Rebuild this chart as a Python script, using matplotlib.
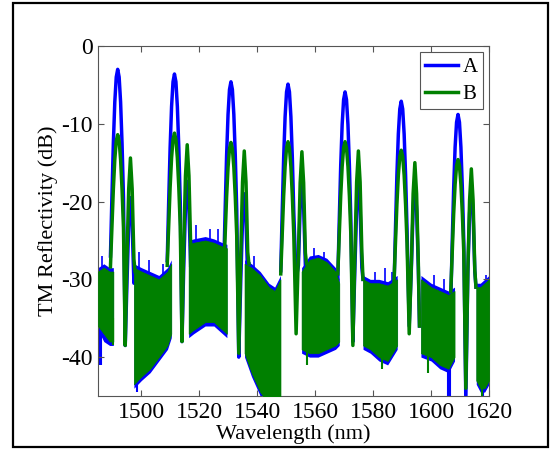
import numpy as np
import matplotlib
matplotlib.use('Agg')
import matplotlib.pyplot as plt
from matplotlib.patches import Rectangle

plt.rcParams['font.family'] = ['Liberation Serif', 'DejaVu Serif']
plt.rcParams['axes.unicode_minus'] = False

# peak groups
centers = [1491.8, 1511.4, 1530.9, 1550.6, 1570.3, 1589.7, 1609.3]
side_centers = [1496.2, 1515.8, 1535.5, 1555.4, 1574.9, 1594.4, 1613.9]
a_peak = [-3.0, -3.6, -4.6, -4.9, -5.9, -7.1, -8.8]
b_peak = [-11.4, -11.2, -12.4, -12.3, -12.3, -13.4, -14.6]
a_side = [-19.5, -17.4, -19.0, -17.2, -17.5, -17.5, -18.0]
b_side = [-14.4, -12.7, -13.5, -13.6, -13.5, -15.0, -15.8]
a_valley = [-38.5, -38.0, -40.0, -30.0, -38.0, -36.0, -45.5]
b_valley = [-38.5, -38.0, -39.5, -37.0, -38.5, -37.0, -44.0]
end_db = [-29.0, -26.0, -28.0, -28.0, -30.0, -36.0, -31.0]

main_offset = [-2.5, -2.0, -1.5, -1.0, -0.5, 0.0, 0.5, 1.0, 1.5, 2.0]
a_main_drop = [24, 16.5, 9.5, 4.2, 1.0, 0, 1.0, 4.2, 9.5, 16.5]
b_main_drop = [17, 12, 7, 3.2, 0.8, 0, 0.8, 3.2, 7, 12]
side_offset = [-1.2, -0.6, 0.0, 0.6, 1.2]
a_side_drop = [11, 3.5, 0, 3.5, 11]
b_side_drop = [13, 4, 0, 4, 13]

# noisy floor between the peaks: wavelength, top and bottom of the band
band_wl = [[1485.0, 1487.0, 1489.0, 1490.3],
           [1497.4, 1500.0, 1503.0, 1506.0, 1509.0, 1510.3],
           [1516.3, 1518.0, 1522.0, 1525.0, 1528.0, 1529.5],
           [1535.6, 1538.0, 1541.0, 1544.0, 1546.0, 1548.0],
           [1555.3, 1558.0, 1561.0, 1564.0, 1567.0, 1568.3],
           [1576.5, 1579.0, 1582.0, 1585.0, 1588.3],
           [1596.5, 1600.0, 1603.0, 1606.0, 1608.1],
           [1615.6, 1617.0, 1618.5, 1620.0]]
b_band_top = [[-29.0, -28.5, -29.0, -29.0],
              [-28.5, -29.0, -29.5, -30.0, -29.0, -28.0],
              [-25.5, -25.3, -25.0, -25.3, -25.8, -26.0],
              [-28.0, -28.5, -29.5, -31.0, -31.5, -30.0],
              [-29.0, -27.5, -27.2, -27.8, -29.0, -30.5],
              [-30.0, -30.5, -30.5, -30.8, -30.0],
              [-30.0, -31.0, -31.5, -32.0, -31.5],
              [-31.0, -31.0, -30.5, -30.0]]
b_band_bot = [[-36.0, -37.0, -38.0, -38.0],
              [-43.5, -42.5, -41.5, -40.0, -38.5, -37.0],
              [-37.0, -36.5, -35.5, -35.5, -36.5, -37.0],
              [-39.5, -42.0, -44.5, -46.0, -46.0, -46.0],
              [-39.0, -39.5, -39.5, -39.0, -38.5, -38.0],
              [-38.5, -39.0, -40.0, -40.5, -38.5],
              [-39.5, -40.0, -41.0, -41.5, -40.0],
              [-43.0, -44.0, -44.0, -43.0]]
a_band_top = [[-28.5, -28.0, -28.5, -28.5],
              [-28.0, -28.5, -29.0, -29.5, -28.5, -27.5],
              [-25.0, -24.8, -24.5, -24.8, -25.3, -25.5],
              [-27.5, -28.0, -29.0, -30.5, -31.0, -29.5],
              [-28.5, -27.0, -26.8, -27.3, -28.5, -30.0],
              [-29.5, -30.0, -30.0, -30.3, -29.5],
              [-29.5, -30.5, -31.0, -31.5, -31.0],
              [-30.5, -30.5, -30.0, -29.5]]
a_band_bot = [[-36.5, -38.0, -38.5, -38.5],
              [-44.0, -43.0, -42.0, -40.5, -39.0, -37.5],
              [-37.5, -37.0, -36.0, -36.0, -37.0, -37.5],
              [-40.0, -42.5, -45.0, -46.0, -46.0, -46.0],
              [-39.5, -40.0, -40.0, -39.5, -39.0, -38.5],
              [-39.0, -39.5, -40.5, -41.0, -39.0],
              [-40.0, -40.5, -41.5, -42.0, -40.5],
              [-43.5, -44.5, -44.5, -43.5]]

# single spikes sticking out of the floor
a_spike_wl = [1485.6, 1486.2, 1498.3, 1543.5, 1545.0, 1546.5, 1605.7,
              1606.7, 1617.8]
a_spike_db = [-41, -41, -44.5, -45.5, -45.5, -45.5, -45.5, -45.5, -45.5]
a_up_wl = [1486.5, 1499.0, 1502.5, 1507.5, 1519.0, 1523.5, 1526.5, 1539.0,
           1559.5, 1563.0, 1580.5, 1584.0, 1586.5, 1601.0, 1604.5, 1619.0]
a_up_db = [-27.0, -26.5, -27.5, -28.0, -23.0, -23.5, -23.5, -27.0,
           -26.0, -26.5, -29.0, -28.5, -29.0, -29.5, -30.0, -29.5]
b_spike_wl = [1490.2, 1617.5, 1557.0, 1583.0, 1599.0]
b_spike_db = [-38.5, -45.5, -41.0, -41.5, -42.0]

blue = (0, 0, 1)
green = (0, 0.5, 0)

fig = plt.figure(figsize=(5.57, 4.5), dpi=100)
fig.patches.append(Rectangle((13 / 557, 3 / 450), 535 / 557, 444 / 450,
                             transform=fig.transFigure, fill=False,
                             edgecolor='black', linewidth=1.6))
ax = fig.add_axes([98 / 557, 54 / 450, 391 / 557, 350 / 450])


def group_line(c, s, h, hs, v, e, main_drop, side_drop):
    x = [c + o for o in main_offset]
    y = [h - d for d in main_drop]
    x.append((c + main_offset[-1] + s + side_offset[0]) / 2)
    y.append(v)
    x += [s + o for o in side_offset]
    y += [hs - d for d in side_drop]
    x.append(s + 1.6)
    y.append(e)
    return x, y


for k in range(len(band_wl)):
    ax.fill_between(band_wl[k], a_band_bot[k], a_band_top[k], color=blue,
                    linewidth=0, zorder=1)
ax.vlines(a_spike_wl, a_spike_db, -35, color=blue, linewidth=1.5, zorder=1)
ax.vlines(a_up_wl, -32, a_up_db, color=blue, linewidth=1.2, zorder=1)
for k in range(len(centers)):
    x, y = group_line(centers[k], side_centers[k], a_peak[k], a_side[k],
                      a_valley[k], end_db[k], a_main_drop, a_side_drop)
    ax.plot(x, y, color=blue, linewidth=2.5, zorder=2,
            label='A' if k == 0 else None)

for k in range(len(band_wl)):
    ax.fill_between(band_wl[k], b_band_bot[k], b_band_top[k], color=green,
                    linewidth=0.5, zorder=3)
ax.vlines(b_spike_wl, b_spike_db, -35, color=green, linewidth=1.5, zorder=3)
for k in range(len(centers)):
    x, y = group_line(centers[k], side_centers[k], b_peak[k], b_side[k],
                      b_valley[k], end_db[k], b_main_drop, b_side_drop)
    ax.plot(x, y, color=green, linewidth=2.5, zorder=4,
            label='B' if k == 0 else None)

ax.set_xlim(1485, 1620)
ax.set_ylim(-45, 0)
ax.set_xticks([1500, 1520, 1540, 1560, 1580, 1600, 1620])
ax.set_yticks([0, -10, -20, -30, -40])
ax.tick_params(direction='in', top=True, right=True, length=4,
               color='#555555', labelsize=17, pad=4)
for sp in ax.spines.values():
    sp.set_color('#555555')
    sp.set_linewidth(0.8)
ax.set_xlabel('Wavelength (nm)', fontsize=16, labelpad=1)
ax.set_ylabel('TM Reflectivity (dB)', fontsize=16, labelpad=2)

leg = ax.legend(loc='upper right', fontsize=15, fancybox=False,
                edgecolor='#555555', framealpha=1, handlelength=1.6,
                borderaxespad=0.3, borderpad=0.25, labelspacing=0.35,
                handletextpad=0.2)
leg.get_frame().set_linewidth(0.8)

fig.savefig('out.png', dpi=100)
